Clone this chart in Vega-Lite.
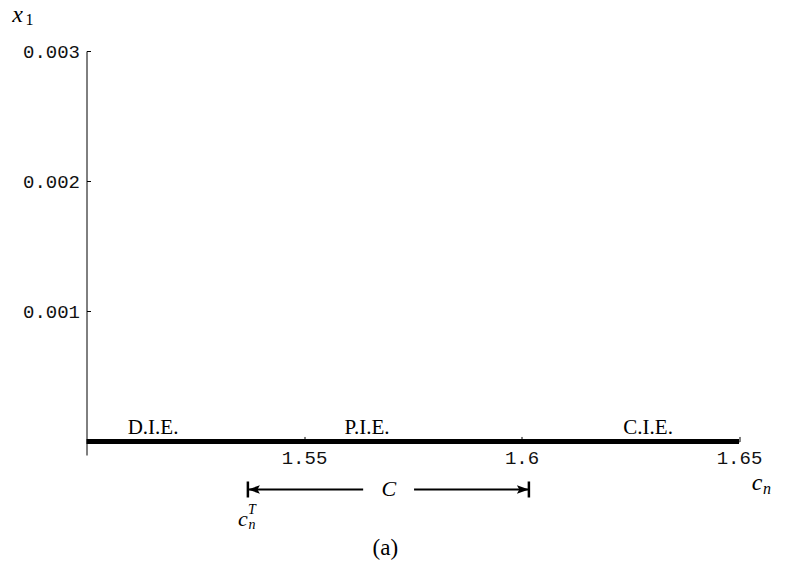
{
  "$schema": "https://vega.github.io/schema/vega-lite/v6.json",
  "width": 652.5,
  "height": 404,
  "autosize": {"type": "none"},
  "padding": {"left": 86.5, "top": 51, "right": 64, "bottom": 124},
  "background": "white",
  "config": {
    "view": {"stroke": null},
    "axis": {
      "grid": false,
      "domainColor": "black",
      "tickColor": "black",
      "labelColor": "#111111",
      "labelFont": "Liberation Mono",
      "labelFontSize": 19,
      "title": null
    },
    "text": {"font": "Liberation Serif", "color": "black"}
  },
  "datasets": {
    "curve": [
      {"c": 1.5, "x1": 0},
      {"c": 1.65, "x1": 0}
    ],
    "regimes": [
      {"c": 1.5153, "x1": 0, "label": "D.I.E."},
      {"c": 1.5645, "x1": 0, "label": "P.I.E."},
      {"c": 1.6291, "x1": 0, "label": "C.I.E."}
    ],
    "axisEnds": [
      {"c": 1.5, "x1": 0.003, "axis": "y"},
      {"c": 1.65, "x1": 0, "axis": "x"}
    ],
    "interval": [
      {"c": 1.5371, "c2": 1.5636, "x1": -0.000369},
      {"c": 1.5753, "c2": 1.6017, "x1": -0.000369}
    ],
    "bounds": [
      {"c": 1.5371, "x1": -0.000369, "side": "left"},
      {"c": 1.6017, "x1": -0.000369, "side": "right"}
    ],
    "notes": [
      {"c": 1.5695, "x1": -0.000369, "label": "C"}
    ],
    "caption": [
      {"c": 1.5687, "x1": -0.000818, "label": "(a)"}
    ]
  },
  "encoding": {
    "x": {
      "field": "c",
      "type": "quantitative",
      "scale": {"domain": [1.5, 1.65], "nice": false, "zero": false},
      "axis": {
        "values": [1.55, 1.6, 1.65],
        "format": ".3~g",
        "offset": -13.54,
        "tickSize": -5,
        "labelPadding": 12,
        "labelFlush": false
      }
    },
    "y": {
      "field": "x1",
      "type": "quantitative",
      "scale": {"domain": [-0.000104, 0.003], "nice": false, "zero": false},
      "axis": {
        "values": [0.001, 0.002, 0.003],
        "format": ".3f",
        "tickSize": -4,
        "labelPadding": 11,
        "labelFlush": false
      }
    }
  },
  "layer": [
    {
      "data": {"name": "curve"},
      "mark": {"type": "line", "color": "black", "strokeWidth": 5, "strokeCap": "butt"}
    },
    {
      "data": {"name": "regimes"},
      "mark": {"type": "text", "fontSize": 21, "baseline": "alphabetic", "dy": -7},
      "encoding": {"text": {"field": "label"}}
    },
    {
      "data": {"name": "axisEnds"},
      "transform": [{"filter": "datum.axis == 'y'"}],
      "layer": [
        {"mark": {"type": "text", "text": "x", "fontSize": 24, "fontStyle": "italic", "baseline": "middle", "dx": -69, "dy": -36}},
        {"mark": {"type": "text", "text": "1", "fontSize": 16, "baseline": "middle", "dx": -57, "dy": -31}}
      ]
    },
    {
      "data": {"name": "axisEnds"},
      "transform": [{"filter": "datum.axis == 'x'"}],
      "layer": [
        {"mark": {"type": "text", "text": "c", "fontSize": 24, "fontStyle": "italic", "baseline": "middle", "dx": 18, "dy": 42}},
        {"mark": {"type": "text", "text": "n", "fontSize": 16, "fontStyle": "italic", "baseline": "middle", "dx": 28, "dy": 48}}
      ]
    },
    {
      "data": {"name": "interval"},
      "mark": {"type": "rule", "color": "black", "strokeWidth": 2},
      "encoding": {"x2": {"field": "c2"}}
    },
    {
      "data": {"name": "bounds"},
      "mark": {"type": "tick", "orient": "vertical", "color": "black", "size": 16, "thickness": 2.5, "opacity": 1},
      "encoding": {}
    },
    {
      "data": {"name": "bounds"},
      "transform": [{"filter": "datum.side == 'left'"}],
      "mark": {"type": "point", "filled": true, "color": "black", "opacity": 1, "size": 144, "strokeWidth": 0,
               "shape": "M0,0L2,-0.7L1.6,0L2,0.7Z"},
      "encoding": {}
    },
    {
      "data": {"name": "bounds"},
      "transform": [{"filter": "datum.side == 'right'"}],
      "mark": {"type": "point", "filled": true, "color": "black", "opacity": 1, "size": 144, "strokeWidth": 0,
               "shape": "M0,0L-2,-0.7L-1.6,0L-2,0.7Z"},
      "encoding": {}
    },
    {
      "data": {"name": "bounds"},
      "transform": [{"filter": "datum.side == 'left'"}],
      "layer": [
        {"mark": {"type": "text", "text": "c", "fontSize": 22, "fontStyle": "italic", "baseline": "middle", "dx": -5, "dy": 30}},
        {"mark": {"type": "text", "text": "n", "fontSize": 14, "fontStyle": "italic", "baseline": "middle", "dx": 4, "dy": 36}},
        {"mark": {"type": "text", "text": "T", "fontSize": 14, "fontStyle": "italic", "baseline": "middle", "dx": 4, "dy": 21}}
      ]
    },
    {
      "data": {"name": "notes"},
      "mark": {"type": "text", "fontSize": 22, "fontStyle": "italic", "baseline": "middle"},
      "encoding": {"text": {"field": "label"}}
    },
    {
      "data": {"name": "caption"},
      "mark": {"type": "text", "fontSize": 23, "baseline": "middle"},
      "encoding": {"text": {"field": "label"}}
    }
  ]
}
